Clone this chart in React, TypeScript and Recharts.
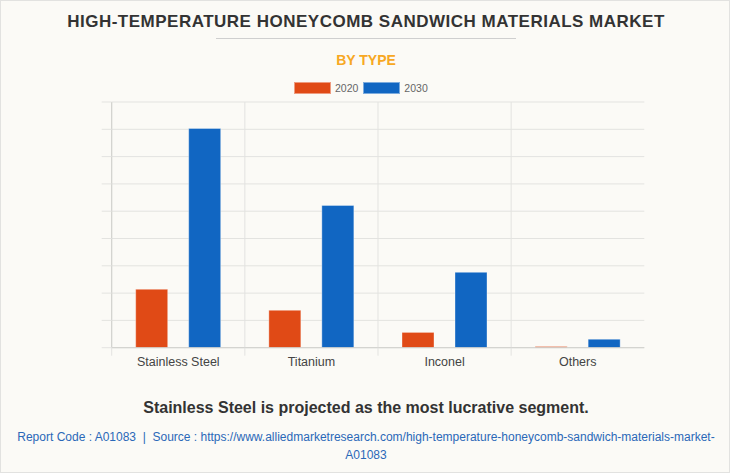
import React from "react";
import { Bar, BarChart, CartesianGrid, XAxis, YAxis } from "recharts";

// Market by type (unit = one grid step / 100)
const categories = ["Stainless Steel", "Titanium", "Inconel", "Others"];
const values2020 = [214, 137, 56, 4];
const values2030 = [803, 521, 276, 31];
const yTicks = [0, 100, 200, 300, 400, 500, 600, 700, 800, 900];

const COLORS = {
  y2020: "#e04a16",
  y2030: "#1166c2",
  grid: "#e3e3e0",
  axis: "#cfcfcc",
};

const W = 730;
const H = 473;
const MARGIN = { top: 101, right: 86.7, bottom: 96.3, left: 100.7 };
const Y_AXIS_W = 10;
const PLOT_W = W - MARGIN.left - MARGIN.right - Y_AXIS_W;
const BAND = PLOT_W / categories.length;

const data = categories.map((name, i) => ({
  name,
  v2020: values2020[i],
  v2030: values2030[i],
}));

const FONT = '"Liberation Sans", Arial, sans-serif';

function XTick(props: any) {
  const { x, y, payload } = props;
  return (
    <g>
      <line
        x1={x - BAND / 2}
        x2={x - BAND / 2}
        y1={y}
        y2={y + 8}
        stroke={COLORS.grid}
      />
      <text
        x={x}
        y={y + 18.3}
        textAnchor="middle"
        fill="#444"
        fontSize={12.5}
        fontFamily={FONT}
      >
        {payload.value}
      </text>
    </g>
  );
}

function LegendItem({ color, label }: { color: string; label: string }) {
  return (
    <span style={{ display: "inline-flex", alignItems: "center", marginRight: 5 }}>
      <span
        style={{
          display: "inline-block",
          width: 37,
          height: 12,
          background: color,
          boxSizing: "border-box",
          border: "1px solid rgba(255,255,255,0.45)",
          marginRight: 4,
        }}
      />
      <span style={{ fontSize: 10.5, color: "#666" }}>{label}</span>
    </span>
  );
}

export default function App() {
  return (
    <div
      style={{
        position: "absolute",
        left: 0,
        top: 0,
        width: W,
        height: H,
        boxSizing: "border-box",
        border: "1px solid #e2e2e0",
        background: "#fbfaf6",
        fontFamily: FONT,
        overflow: "hidden",
      }}
    >
      <div
        style={{
          position: "absolute",
          top: 11.4,
          left: 0,
          width: W,
          textAlign: "center",
          fontSize: 17,
          letterSpacing: 0.5,
          lineHeight: "20px",
          fontWeight: 700,
          color: "#333",
        }}
      >
        HIGH-TEMPERATURE HONEYCOMB SANDWICH MATERIALS MARKET
      </div>
      <div
        style={{
          position: "absolute",
          top: 37,
          left: 215,
          width: 300,
          height: 1,
          background: "#cfcfcf",
        }}
      />
      <div
        style={{
          position: "absolute",
          top: 51,
          left: 0,
          width: W,
          textAlign: "center",
          fontSize: 14,
          lineHeight: "16px",
          fontWeight: 700,
          color: "#f7a823",
        }}
      >
        BY TYPE
      </div>
      <div
        style={{
          position: "absolute",
          top: 80,
          left: 293,
          height: 14,
          display: "flex",
          alignItems: "center",
        }}
      >
        <LegendItem color={COLORS.y2020} label="2020" />
        <LegendItem color={COLORS.y2030} label="2030" />
      </div>

      <div style={{ position: "absolute", left: 0, top: 0 }}>
        <BarChart
          width={W}
          height={H}
          data={data}
          margin={MARGIN}
          barSize={32}
          barGap={21}
        >
          <CartesianGrid
            stroke={COLORS.grid}
            verticalCoordinatesGenerator={({ offset }: any) =>
              categories.map((_, i) => offset.left + (i * offset.width) / categories.length)
            }
          />
          <XAxis
            dataKey="name"
            height={30}
            axisLine={{ stroke: COLORS.axis }}
            tickLine={false}
            tickSize={0}
            tickMargin={0}
            tick={<XTick />}
            interval={0}
          />
          <YAxis
            width={Y_AXIS_W}
            domain={[0, 900]}
            ticks={yTicks}
            interval={0}
            tickFormatter={() => ""}
            tickLine={{ stroke: COLORS.grid }}
            tickSize={10}
            axisLine={{ stroke: COLORS.axis }}
          />
          <Bar
            dataKey="v2020"
            fill={COLORS.y2020}
            stroke="rgba(255,255,255,0.35)"
            isAnimationActive={false}
          />
          <Bar
            dataKey="v2030"
            fill={COLORS.y2030}
            stroke="rgba(255,255,255,0.35)"
            isAnimationActive={false}
          />
        </BarChart>
      </div>

      <div
        style={{
          position: "absolute",
          top: 398,
          left: 0,
          width: W,
          textAlign: "center",
          fontSize: 16,
          lineHeight: "18px",
          fontWeight: 700,
          color: "#333",
        }}
      >
        Stainless Steel is projected as the most lucrative segment.
      </div>
      <div
        style={{
          position: "absolute",
          top: 427,
          left: 10,
          width: 710,
          textAlign: "center",
          fontSize: 12,
          lineHeight: "18px",
          color: "#2a68b8",
        }}
      >
        Report Code : A01083&nbsp; | &nbsp;Source : https://www.alliedmarketresearch.com/high-temperature-honeycomb-sandwich-materials-market-A01083
      </div>
    </div>
  );
}
